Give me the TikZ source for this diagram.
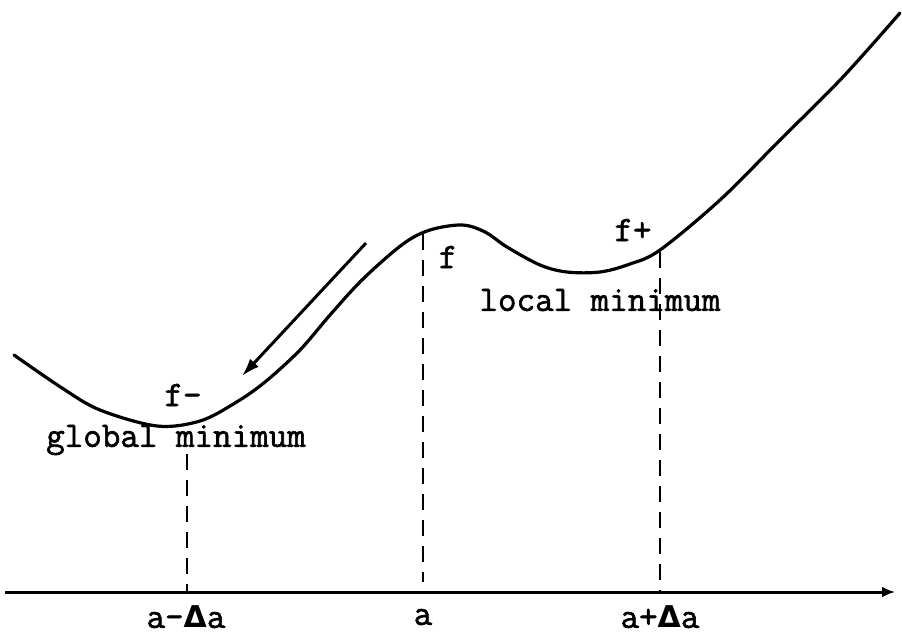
\documentclass[tikz,border=0pt]{standalone}
\usepackage{fontspec}
\newfontfamily\twfont[FakeBold=1.6]{Latin Modern Mono}
\newfontfamily\dvsfont{DejaVu Sans}
\newcommand{\Dlt}{{\dvsfont\bfseries\fontsize{30}{30}\selectfont Δ}}
\usetikzlibrary{arrows.meta}
\begin{document}
\begin{tikzpicture}[x=1pt,y=-1pt,
  curve/.style={line width=3.2pt,line cap=round,line join=round},
  guide/.style={line width=2.2pt,dash pattern=on 16pt off 10pt},
  lbl/.style={font=\fontsize{36}{36}\selectfont\twfont,inner sep=0pt}]
\useasboundingbox (0,0) rectangle (902,635);
% axis
\coordinate (ax0) at (5,592);
\coordinate (ax1) at (895,592);
\draw[line width=3pt,-{Latex[length=13pt,width=11pt]}] (ax0) -- (ax1);
% curve
\draw[curve] plot[smooth,tension=0.55] coordinates {
 (14,355) (62,388) (100,410) (157,426) (200,421) (235,403) (265,382)
 (300,350) (330,315) (363,279) (403,244) (430,230) (462,225) (485,232)
 (507,247) (540,265) (567,272) (600,272) (630,264) (660,250) (720,200)
 (780,140) (842,78) (900,13)};
% arrow
\coordinate (ar0) at (366,243);
\coordinate (ar1) at (242,376);
\draw[line width=3pt,-{Latex[length=18pt,width=12pt]}] (ar0) -- (ar1);
% guides
\coordinate (g1t) at (187,454); \coordinate (g1b) at (187,592);
\coordinate (g2t) at (423,234); \coordinate (g2b) at (423,582);
\coordinate (g3t) at (660,252); \coordinate (g3b) at (660,592);
\draw[guide] (g1t) -- (g1b);
\draw[guide] (g2t) -- (g2b);
\draw[guide] (g3t) -- (g3b);
% labels
\node[lbl] (fm) at (183,395) {f-};
\node[lbl] (f0) at (448,257) {f};
\node[lbl] (fp) at (633,230) {f+};
\node[lbl] (gm) at (176,440) {global minimum};
\node[lbl] (lm) at (600,300) {local minimum};
\node[lbl] (am) at (186,617) {a-\Dlt a};
\node[lbl] (a0) at (423,617) {a};
\node[lbl] (ap) at (660,617) {a+\Dlt a};
\end{tikzpicture}
\end{document}
